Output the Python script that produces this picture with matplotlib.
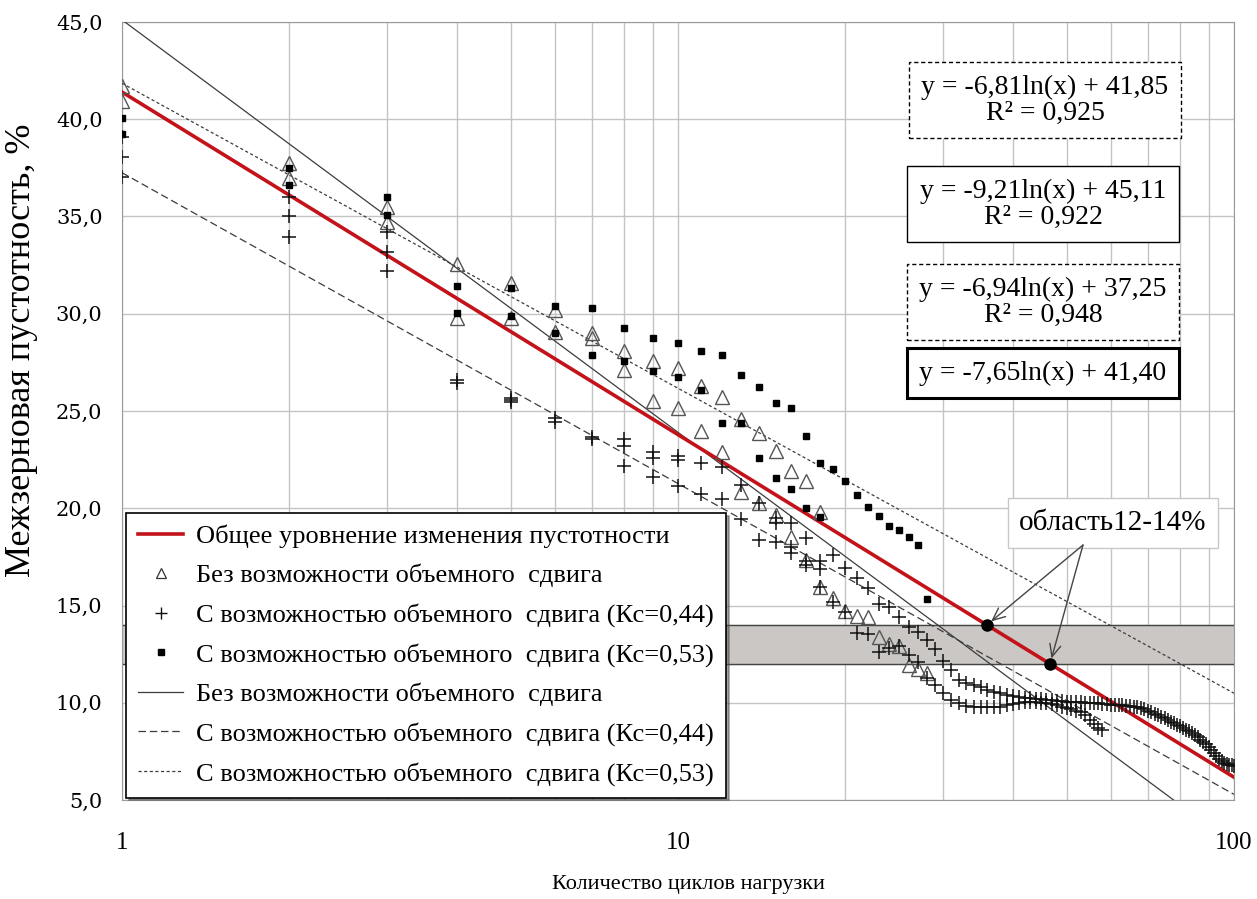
import numpy as np
import matplotlib
matplotlib.use("Agg")
import matplotlib.pyplot as plt
from matplotlib.lines import Line2D

plt.rcParams.update({"font.family": ["Liberation Serif", "DejaVu Serif"]})

# --- data -----------------------------------------------------------------
# triangles: without volumetric shear (two test runs)
TRI_A_X = list(range(1, 19))
TRI_A_Y = [41.70, 37.77, 35.50, 32.54, 31.56, 30.19, 28.99, 28.08, 27.57,
           27.20, 26.29, 25.74, 24.57, 23.88, 22.96, 21.93, 21.40, 19.82]
TRI_B_X = list(range(1, 29))
TRI_B_Y = [40.95, 37.00, 34.70, 29.77, 29.77, 29.08, 28.74, 27.10, 25.53,
           25.14, 23.99, 22.91, 20.85, 20.25, 19.65, 18.50, 17.34, 15.97,
           15.40, 14.70, 14.45, 14.42, 13.40, 13.00, 12.92, 11.94, 11.75,
           11.53]

# crosses: with volumetric shear, Kc = 0.44
PLUS_A_X = list(range(1, 101))
PLUS_A_Y = [39.07, 36.02, 34.19, 26.60, 25.65, 24.62, 23.68, 23.54, 22.90,
            22.69, 22.34, 22.14, 21.20, 20.27, 19.48, 19.23, 18.45, 17.30,
            17.60, 16.94, 16.40, 15.88, 15.08, 14.94, 14.39, 13.91, 13.62,
            13.23, 12.76, 12.16, 11.68, 11.17, 11.00, 10.90, 10.80, 10.65,
            10.55, 10.50, 10.42, 10.35, 10.30, 10.25, 10.22, 10.20, 10.18,
            10.15, 10.12, 10.10, 10.08, 10.05, 10.05, 10.03, 10.02, 10.00,
            10.00, 9.98, 9.97, 9.95, 9.93, 9.90, 9.90, 9.88, 9.86, 9.84,
            9.82, 9.80, 9.77, 9.72, 9.66, 9.60, 9.52, 9.44, 9.36, 9.28,
            9.20, 9.12, 9.02, 8.94, 8.86, 8.78, 8.70, 8.62, 8.55, 8.45,
            8.33, 8.22, 8.10, 7.98, 7.86, 7.72, 7.56, 7.40, 7.26, 7.12,
            7.00, 6.92, 6.87, 6.82, 6.78, 6.75]
PLUS_B_X = list(range(1, 59))
PLUS_B_Y = [38.08, 35.00, 33.19, 26.44, 25.48, 24.45, 23.54, 23.20, 22.57,
            22.49, 20.73, 20.48, 19.45, 18.37, 19.23, 18.00, 17.30, 16.86,
            15.20, 14.68, 13.60, 13.54, 12.62, 12.80, 12.90, 12.45, 12.11,
            11.26, 10.91, 10.50, 10.15, 9.97, 9.85, 9.80, 9.78, 9.76, 9.76,
            9.80, 9.88, 9.95, 10.00, 10.02, 10.03, 10.02, 10.00, 9.97, 9.93,
            9.88, 9.80, 9.72, 9.66, 9.60, 9.50, 9.35, 9.12, 8.90, 8.72, 8.60]
PLUS_C_X = [1, 2, 3, 5, 8, 9, 10, 15, 16, 17, 18]
PLUS_C_Y = [37.05, 33.96, 32.20, 25.56, 22.17, 21.59, 21.14, 18.25, 17.70,
            17.08, 15.97]

# squares: with volumetric shear, Kc = 0.53
SQ_A_X = list(range(1, 28))
SQ_A_Y = [40.08, 37.50, 35.99, 31.44, 31.31, 30.41, 30.31, 29.28, 28.75,
          28.48, 28.08, 27.88, 26.85, 26.25, 25.43, 25.17, 23.72, 22.34,
          22.02, 21.42, 20.68, 20.06, 19.60, 19.10, 18.88, 18.54, 18.11]
SQ_B_X = list(range(1, 19)) + [28]
SQ_B_Y = [39.24, 36.60, 35.10, 30.05, 29.88, 29.03, 27.88, 27.59, 27.07,
          26.76, 26.08, 24.37, 24.37, 22.60, 21.54, 20.97, 20.00, 19.57,
          15.33]

# logarithmic trend lines y = a*ln(x) + b
FIT_NAMES = ["dotted", "solid", "dashed", "total"]
FIT_A = [-6.81, -9.21, -6.94, -7.65]
FIT_B = [41.85, 45.11, 37.25, 41.40]
FIT_R2 = ["0,925", "0,922", "0,948", None]

BAND = (12, 14)

LABELS = ["Общее уровнение изменения пустотности",
          "Без возможности объемного  сдвига",
          "С возможностью объемного  сдвига (Кс=0,44)",
          "С возможностью объемного  сдвига (Кс=0,53)",
          "Без возможности объемного  сдвига",
          "С возможностью объемного  сдвига (Кс=0,44)",
          "С возможностью объемного  сдвига (Кс=0,53)"]

RED = "#c3121a"
DARK = "#3c3c3c"
GRID = "#c4c4c4"

fig = plt.figure(figsize=(12.57, 8.99), dpi=100)
ax = fig.add_axes([122 / 1257, 1 - 800 / 899, 1112 / 1257, 778 / 899])
ax.set_xscale("log")
ax.set_xlim(1, 100)
ax.set_ylim(5, 45)

ax.set_yticks(np.arange(5, 46, 5))
ax.set_yticklabels([f"{v:.1f}".replace(".", ",") for v in np.arange(5, 46, 5)],
                   family="DejaVu Serif", fontsize=15)
ax.set_xticks([1, 10, 100])
ax.set_xticklabels(["1", "10", "100"], fontsize=18)
ax.tick_params(which="both", length=0)
ax.tick_params(axis="x", pad=23)
ax.tick_params(axis="y", pad=14)
ax.grid(True, which="both", axis="x", color=GRID, lw=1, zorder=0)
ax.grid(True, which="major", axis="y", color=GRID, lw=1, zorder=0)
ax.set_axisbelow(True)
for s in ax.spines.values():
    s.set_color("#9a9a9a")

# shaded 12-14 % band
ax.axhspan(*BAND, color="#cac7c5", zorder=1)
for yb in BAND:
    ax.axhline(yb, color="#444444", lw=1, zorder=1.2)

# trend lines
xs = np.logspace(0, 2, 300)
styles = {"dotted": dict(ls=(0, (2.5, 2)), lw=0.9, color=DARK),
          "solid": dict(ls="-", lw=0.9, color=DARK),
          "dashed": dict(ls=(0, (6, 3)), lw=0.9, color=DARK),
          "total": dict(ls="-", lw=2.6, color=RED)}
for name, a, b in zip(FIT_NAMES, FIT_A, FIT_B):
    ax.plot(xs, a * np.log(xs) + b, zorder=3 if name != "total" else 4,
            **styles[name])

# data points
tri = dict(ls="none", marker="^", ms=10, mfc="none", mec="#555555", mew=1.0,
           zorder=5)
plus = dict(ls="none", marker="+", ms=10, color="#111111", mew=1.1, zorder=5)
sq = dict(ls="none", marker="s", ms=4.5, color="black", zorder=5)
ax.plot(TRI_A_X, TRI_A_Y, **tri)
ax.plot(TRI_B_X, TRI_B_Y, **tri)
ax.plot(PLUS_A_X, PLUS_A_Y, **plus)
ax.plot(PLUS_B_X, PLUS_B_Y, **plus)
ax.plot(PLUS_C_X, PLUS_C_Y, **plus)
ax.plot(SQ_A_X, SQ_A_Y, **sq)
ax.plot(SQ_B_X, SQ_B_Y, **sq)

# points where the total line enters the band
a_t, b_t = FIT_A[3], FIT_B[3]
y_hits = [BAND[1], BAND[0]]
x_hits = [np.exp((yb - b_t) / a_t) for yb in y_hits]
ax.plot(x_hits, y_hits, ls="none", marker="o", ms=8, color="black", zorder=6)

ax.text(0.8854, 0.4182, "область12-14%", transform=fig.transFigure,
        ha="center", va="center", fontsize=21,
        bbox=dict(boxstyle="square,pad=0.4", fc="white", ec="#c8c8c8", lw=1))
for xh, yh in zip(x_hits, y_hits):
    ax.annotate("", xy=(xh, yh), xytext=(1083 / 1257, 1 - 545 / 899),
                textcoords="figure fraction",
                arrowprops=dict(arrowstyle="->,head_length=0.9,head_width=0.4",
                                color="#444444", lw=1, shrinkA=0, shrinkB=4),
                zorder=7)

# equation boxes
eq_pos = [(1045, 100), (1043, 204), (1043, 302), (1043, 373)]
eq_box = [dict(ls=(0, (3, 2)), lw=1), dict(ls="-", lw=1),
          dict(ls=(0, (3, 2)), lw=1), dict(ls="-", lw=2.2)]
for (px, py), a, b, r2, bx in zip(eq_pos, FIT_A, FIT_B, FIT_R2, eq_box):
    s = f"y = {a:.2f}ln(x) + {b:.2f}".replace(".", ",")
    if r2:
        s += f"\nR² = {r2}"
    fig.text(px / 1257, 1 - py / 899, s, ha="center", va="center",
             fontsize=20, linespacing=1.05, multialignment="center",
             bbox=dict(boxstyle="square,pad=0.45", fc="white", ec="black", **bx))

# legend
handles = [Line2D([], [], color=RED, lw=2.6),
           Line2D([], [], ls="none", marker="^", ms=7, mfc="none",
                  mec="#333333", mew=0.9),
           Line2D([], [], ls="none", marker="+", ms=9, color="#111111",
                  mew=1.0),
           Line2D([], [], ls="none", marker="s", ms=4.5, color="black"),
           Line2D([], [], **styles["solid"]),
           Line2D([], [], **styles["dashed"]),
           Line2D([], [], **styles["dotted"])]
leg = ax.legend(handles, LABELS, loc="lower left", bbox_to_anchor=(0.004, 0.003),
                borderaxespad=0, fontsize=19, frameon=True, fancybox=False,
                shadow=True, edgecolor="black", framealpha=1,
                handlelength=1.7, handletextpad=0.5, labelspacing=0.6,
                borderpad=0.45)
leg.get_frame().set_linewidth(1.2)
leg.set_zorder(8)

fig.text(22 / 1257, 1 - 350 / 899, "Межзерновая пустотность, %", rotation=90,
         ha="center", va="center", fontsize=26)
fig.text(688 / 1257, 1 - 885 / 899, "Количество циклов нагрузки",
         ha="center", va="center", fontsize=16)

fig.savefig("out.png", dpi=100, facecolor="white")
